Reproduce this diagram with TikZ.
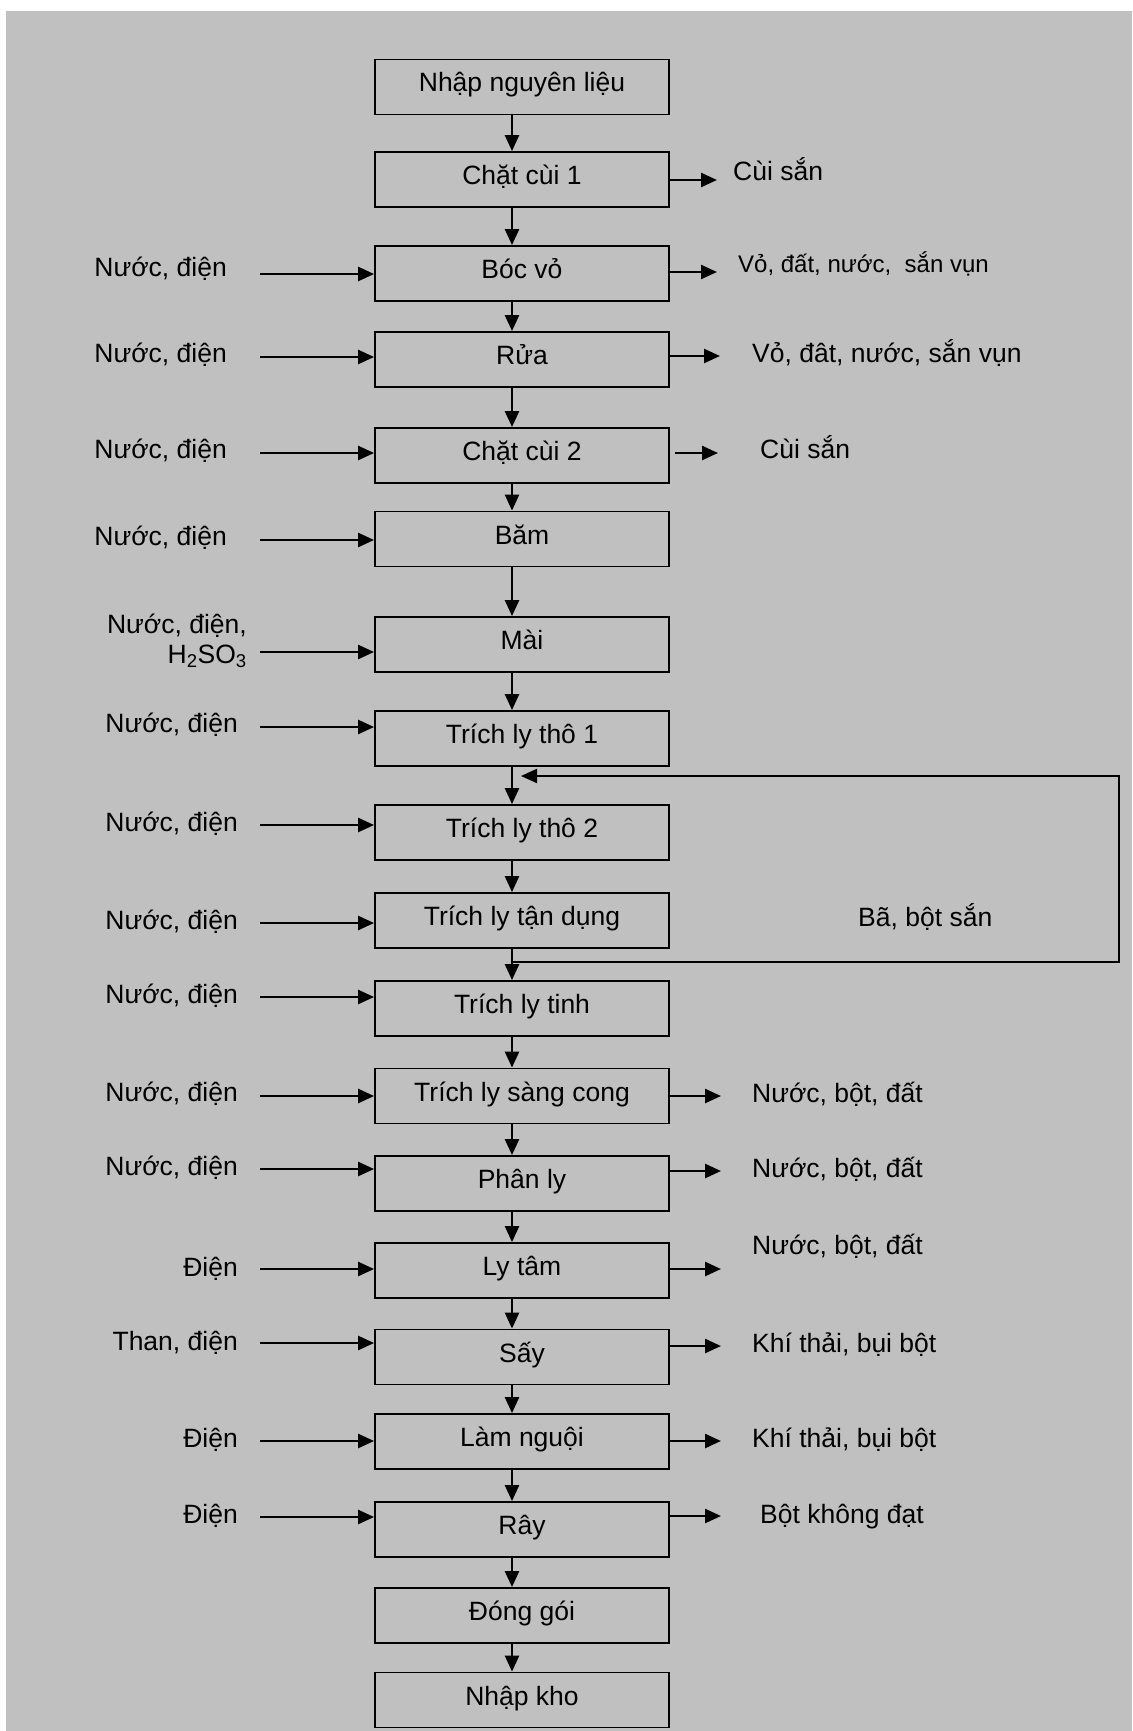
\documentclass[tikz,border=0pt]{standalone}
\usepackage{fontspec}
\setmainfont{Liberation Sans}
\usetikzlibrary{arrows.meta}
\definecolor{bggray}{RGB}{192,192,192}

\begin{document}
\begin{tikzpicture}[x=1pt,y=1pt,yscale=-1,xscale=1,
    stepbox/.style={draw, line width=1.8pt, minimum width=294pt, minimum height=55pt, inner sep=0pt, text height=10pt, text depth=0pt, font=\fontsize{26.5}{30}\selectfont},
    sidetext/.style={inner sep=0pt, font=\fontsize{26.5}{30}\selectfont},
    flow/.style={line width=2.5pt, -{Triangle[length=16pt,width=14pt]}}]
        \useasboundingbox (0,0) rectangle (1132,1731);

        %Shape: Rectangle (background)
        \fill [bggray] (6,11) rectangle (1132,1731);
        \coordinate (spine) at (512,0);

        %Shape: Rectangle
        \node [stepbox] (nhap) at (522,87) {Nhập nguyên liệu};
        \node [stepbox] (chat1) at (522,179.5) {Chặt cùi 1};
        \node [stepbox] (boc) at (522,273.5) {Bóc vỏ};
        \node [stepbox] (rua) at (522,359.5) {Rửa};
        \node [stepbox] (chat2) at (522,455.5) {Chặt cùi 2};
        \node [stepbox] (bam) at (522,539) {Băm};
        \node [stepbox] (mai) at (522,644.5) {Mài};
        \node [stepbox] (tho1) at (522,738.5) {Trích ly thô 1};
        \node [stepbox] (tho2) at (522,832.5) {Trích ly thô 2};
        \node [stepbox] (tandung) at (522,920.5) {Trích ly tận dụng};
        \node [stepbox] (tinh) at (522,1008.5) {Trích ly tinh};
        \node [stepbox] (sang) at (522,1096) {Trích ly sàng cong};
        \node [stepbox] (phanly) at (522,1183.5) {Phân ly};
        \node [stepbox] (lytam) at (522,1270.5) {Ly tâm};
        \node [stepbox] (say) at (522,1357) {Sấy};
        \node [stepbox] (nguoi) at (522,1441.5) {Làm nguội};
        \node [stepbox] (ray) at (522,1529.5) {Rây};
        \node [stepbox] (donggoi) at (522,1615.5) {Đóng gói};
        \node [stepbox] (nhapkho) at (522,1700) {Nhập kho};

        %Straight Lines (main flow)
        \draw [flow] (nhap.south -| spine) -- (chat1.north -| spine);
        \draw [flow] (chat1.south -| spine) -- (boc.north -| spine);
        \draw [flow] (boc.south -| spine) -- (rua.north -| spine);
        \draw [flow] (rua.south -| spine) -- (chat2.north -| spine);
        \draw [flow] (chat2.south -| spine) -- (bam.north -| spine);
        \draw [flow] (bam.south -| spine) -- (mai.north -| spine);
        \draw [flow] (mai.south -| spine) -- (tho1.north -| spine);
        \draw [flow] (tho1.south -| spine) -- (tho2.north -| spine);
        \draw [flow] (tho2.south -| spine) -- (tandung.north -| spine);
        \draw [flow] (tandung.south -| spine) -- (tinh.north -| spine);
        \draw [flow] (tinh.south -| spine) -- (sang.north -| spine);
        \draw [flow] (sang.south -| spine) -- (phanly.north -| spine);
        \draw [flow] (phanly.south -| spine) -- (lytam.north -| spine);
        \draw [flow] (lytam.south -| spine) -- (say.north -| spine);
        \draw [flow] (say.south -| spine) -- (nguoi.north -| spine);
        \draw [flow] (nguoi.south -| spine) -- (ray.north -| spine);
        \draw [flow] (ray.south -| spine) -- (donggoi.north -| spine);
        \draw [flow] (donggoi.south -| spine) -- (nhapkho.north -| spine);

        %Straight Lines (return loop)
        \coordinate (loopA) at (1119,962);
        \coordinate (loopB) at (1119,776);
        \coordinate (loopEnd) at (521,776);
        \draw [flow, line width=2.2pt] (spine |- loopA) -- (loopA) -- (loopB) -- (loopEnd);
        % Text Node
        \node [sidetext, anchor=base west] (bapulp) at (858,926) {Bã, bột sắn};

        % Text Node (inputs)
        \node [sidetext, anchor=base east] (bocIn) at (227,276) {Nước, điện};
        \node [sidetext, anchor=base east] (ruaIn) at (227,362) {Nước, điện};
        \node [sidetext, anchor=base east] (chat2In) at (227,458) {Nước, điện};
        \node [sidetext, anchor=base east] (bamIn) at (227,545) {Nước, điện};
        \node [sidetext, anchor=base east, align=right] (maiIn) at (247,663) {Nước, điện,\\H\textsubscript{2}SO\textsubscript{3}};
        \node [sidetext, anchor=base east] (tho1In) at (238,732) {Nước, điện};
        \node [sidetext, anchor=base east] (tho2In) at (238,831) {Nước, điện};
        \node [sidetext, anchor=base east] (tandungIn) at (238,929) {Nước, điện};
        \node [sidetext, anchor=base east] (tinhIn) at (238,1003) {Nước, điện};
        \node [sidetext, anchor=base east] (sangIn) at (238,1101) {Nước, điện};
        \node [sidetext, anchor=base east] (phanlyIn) at (238,1175) {Nước, điện};
        \node [sidetext, anchor=base east] (lytamIn) at (238,1276) {Điện};
        \node [sidetext, anchor=base east] (sayIn) at (238,1350) {Than, điện};
        \node [sidetext, anchor=base east] (nguoiIn) at (238,1447) {Điện};
        \node [sidetext, anchor=base east] (rayIn) at (238,1523) {Điện};

        %Straight Lines (inputs)
        \coordinate (bocA) at (260,274);
        \coordinate (ruaA) at (260,357);
        \coordinate (chat2A) at (260,453);
        \coordinate (bamA) at (260,540);
        \coordinate (maiA) at (260,652);
        \coordinate (tho1A) at (260,727);
        \coordinate (tho2A) at (260,825);
        \coordinate (tandungA) at (260,923);
        \coordinate (tinhA) at (260,997);
        \coordinate (sangA) at (260,1096);
        \coordinate (phanlyA) at (260,1169);
        \coordinate (lytamA) at (260,1269);
        \coordinate (sayA) at (260,1343);
        \coordinate (nguoiA) at (260,1441);
        \coordinate (rayA) at (260,1517);
        \draw [flow] (bocA) -- (bocA -| boc.west);
        \draw [flow] (ruaA) -- (ruaA -| rua.west);
        \draw [flow] (chat2A) -- (chat2A -| chat2.west);
        \draw [flow] (bamA) -- (bamA -| bam.west);
        \draw [flow] (maiA) -- (maiA -| mai.west);
        \draw [flow] (tho1A) -- (tho1A -| tho1.west);
        \draw [flow] (tho2A) -- (tho2A -| tho2.west);
        \draw [flow] (tandungA) -- (tandungA -| tandung.west);
        \draw [flow] (tinhA) -- (tinhA -| tinh.west);
        \draw [flow] (sangA) -- (sangA -| sang.west);
        \draw [flow] (phanlyA) -- (phanlyA -| phanly.west);
        \draw [flow] (lytamA) -- (lytamA -| lytam.west);
        \draw [flow] (sayA) -- (sayA -| say.west);
        \draw [flow] (nguoiA) -- (nguoiA -| nguoi.west);
        \draw [flow] (rayA) -- (rayA -| ray.west);

        % Text Node (outputs)
        \node [sidetext, anchor=base west] (chat1Out) at (733,181) {Cùi sắn};
        \node [sidetext, anchor=base west, font=\fontsize{24}{28}\selectfont] (bocOut) at (738,272) {Vỏ, đất, nước,\ \ sắn vụn};
        \node [sidetext, anchor=base west] (ruaOut) at (752,362) {Vỏ, đât, nước, sắn vụn};
        \node [sidetext, anchor=base west] (chat2Out) at (760,458) {Cùi sắn};
        \node [sidetext, anchor=base west] (sangOut) at (752,1102) {Nước, bột, đất};
        \node [sidetext, anchor=base west] (phanlyOut) at (752,1177) {Nước, bột, đất};
        \node [sidetext, anchor=base west] (lytamOut) at (752,1254) {Nước, bột, đất};
        \node [sidetext, anchor=base west] (sayOut) at (752,1352) {Khí thải, bụi bột};
        \node [sidetext, anchor=base west] (nguoiOut) at (752,1447) {Khí thải, bụi bột};
        \node [sidetext, anchor=base west] (rayOut) at (760,1523) {Bột không đạt};

        %Straight Lines (outputs)
        \coordinate (chat1B) at (717,180);
        \coordinate (bocB) at (717,272);
        \coordinate (ruaB) at (720,356);
        \coordinate (chat2B) at (718,453);
        \coordinate (sangB) at (721,1096);
        \coordinate (phanlyB) at (721,1171);
        \coordinate (lytamB) at (721,1269);
        \coordinate (sayB) at (721,1346);
        \coordinate (nguoiB) at (721,1441);
        \coordinate (rayB) at (721,1516);
        \draw [flow] (chat1B -| chat1.east) -- (chat1B);
        \draw [flow] (bocB -| boc.east) -- (bocB);
        \draw [flow] (ruaB -| rua.east) -- (ruaB);
        \draw [flow] ([xshift=5pt]chat2B -| chat2.east) -- (chat2B);
        \draw [flow] (sangB -| sang.east) -- (sangB);
        \draw [flow] (phanlyB -| phanly.east) -- (phanlyB);
        \draw [flow] (lytamB -| lytam.east) -- (lytamB);
        \draw [flow] (sayB -| say.east) -- (sayB);
        \draw [flow] (nguoiB -| nguoi.east) -- (nguoiB);
        \draw [flow] (rayB -| ray.east) -- (rayB);

    \end{tikzpicture}
\end{document}
